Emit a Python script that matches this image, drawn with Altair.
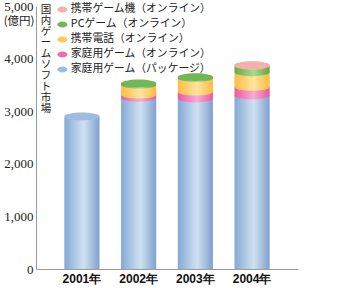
import altair as alt
import pandas as pd

years = ["2001年", "2002年", "2003年", "2004年"]
# stacking order, bottom to top
series = [
    "家庭用ゲーム（パッケージ）",
    "家庭用ゲーム（オンライン）",
    "携帯電話（オンライン）",
    "PCゲーム（オンライン）",
    "携帯ゲーム機（オンライン）",
]
pkg = [2900, 3255, 3240, 3300]
home_online = [0, 60, 130, 160]
mobile = [0, 190, 260, 280]
pc = [0, 25, 20, 125]
handheld = [0, 0, 0, 10]
values = [pkg, home_online, mobile, pc, handheld]

y_ticks = [0, 1000, 2000, 3000, 4000, 5000]
title_chars = list("国内ゲームソフト市場")

side_grad = [
    ("#84a9d3", "#cfe1f2", "#80a1cc"),
    ("#ec58a4", "#fbaad4", "#ea58a0"),
    ("#fcbd44", "#ffe59e", "#faba42"),
    ("#64ab46", "#a9d98b", "#60a742"),
    ("#f19999", "#fcc9c5", "#ef9696"),
]
legend_colors = ["#f7afab", "#72b755", "#ffcb55", "#f06aae", "#9dbcdf"]
legend_order = series[::-1]

rows = []
for yi, yr in enumerate(years):
    lo = 0
    for si, s in enumerate(series):
        v = values[si][yi]
        rows.append({"year": yr, "series": s, "idx": si, "value": v, "lo": lo, "hi": lo + v})
        lo += v
df = pd.DataFrame(rows)

tops = []
for yr in years:
    sub = df[(df.year == yr) & (df.value > 0)]
    last = sub.iloc[-1]
    tops.append({"year": yr, "series": last.series, "total": last.hi})
tops_df = pd.DataFrame(tops)

k = 0.5523
r = 0.22
ellipse = (f"M-1,0C-1,{-r*k:.4f},{-k},{-r},0,{-r}C{k},{-r},1,{-r*k:.4f},1,0"
           f"C1,{r*k:.4f},{k},{r},0,{r}C{-k},{r},-1,{r*k:.4f},-1,0Z")
r2 = 0.6
leg_ellipse = (f"M-1,0C-1,{-r2*k:.4f},{-k},{-r2},0,{-r2}C{k},{-r2},1,{-r2*k:.4f},1,0"
               f"C1,{r2*k:.4f},{k},{r2},0,{r2}C{-k},{r2},-1,{r2*k:.4f},-1,0Z")

W, H = 262, 263
p_in, p_out = 0.38, 0.5
step = W / (len(years) - p_in + 2 * p_out)
bw = step * (1 - p_in)

xscale = alt.Scale(domain=years, paddingInner=p_in, paddingOuter=p_out)
yscale = alt.Scale(domain=[0, 5000], nice=False)

x_enc = alt.X("year:N", scale=xscale, sort=years,
              axis=alt.Axis(title=None, labelAngle=0, ticks=False, labelPadding=4,
                            labelFont="Liberation Sans", labelFontSize=12,
                            labelFontWeight="bold", labelColor="#111",
                            domainColor="#9a9a9a"))
y_axis = alt.Axis(values=y_ticks, format=",d", ticks=False, grid=False, labelPadding=3,
                  labelFont="Liberation Serif", labelFontSize=13, labelColor="#222",
                  domainColor="#9a9a9a", title="(億円)", titleAngle=0,
                  titleAlign="right", titleBaseline="middle", titleX=-2, titleY=15,
                  titleFont="Noto Sans CJK JP", titleFontSize=11.5,
                  titleFontWeight="normal", titleColor="#222")

def grad(c):
    return alt.Gradient(gradient="linear", x1=0, x2=1, y1=0, y2=0,
                        stops=[alt.GradientStop(color=c[0], offset=0),
                               alt.GradientStop(color=c[1], offset=0.55),
                               alt.GradientStop(color=c[2], offset=1)])

base = alt.Chart(df)
layers = []
for si, s in enumerate(series):
    g = grad(side_grad[si])
    seg = base.transform_filter((alt.datum.idx == si) & (alt.datum.value > 0))
    if si > 0:
        layers.append(seg.mark_point(shape=ellipse, size=bw * bw, filled=True, fill=g,
                                     opacity=1, strokeWidth=0)
                      .encode(x=x_enc, y=alt.Y("lo:Q", scale=yscale, axis=y_axis)))
    layers.append(seg.mark_bar(fill=g, strokeWidth=0)
                  .encode(x=x_enc, y=alt.Y("lo:Q", scale=yscale, axis=y_axis), y2="hi:Q"))

caps = alt.Chart(tops_df).mark_point(shape=ellipse, size=bw * bw, filled=True,
                                     opacity=1, strokeWidth=0).encode(
    x=x_enc,
    y=alt.Y("total:Q", scale=yscale, axis=y_axis),
    color=alt.Color("series:N",
                    scale=alt.Scale(domain=legend_order, range=legend_colors),
                    legend=alt.Legend(title=None, orient="none", legendX=21, legendY=-2,
                                      padding=0, symbolType=leg_ellipse, symbolSize=100,
                                      symbolStrokeWidth=0, symbolOpacity=1,
                                      labelFont="Noto Sans CJK JP", labelFontSize=10.8,
                                      labelColor="#222", labelOffset=3, rowPadding=3,
                                      labelLimit=300)),
)
layers.append(caps)

vtitle = alt.Chart(alt.Data(values=[{}])).mark_text(
    font="Noto Sans CJK JP", fontSize=10.5, lineHeight=11, align="center",
    baseline="top", color="#222", lineBreak="\n"
).encode(text=alt.value("\n".join(title_chars)), x=alt.value(10), y=alt.value(-1))
layers.append(vtitle)

chart = alt.layer(*layers).properties(
    width=W, height=H,
    padding={"left": 36, "top": 6, "right": 43, "bottom": 19},
    autosize=alt.AutoSizeParams(type="none"),
    background="white",
).configure_view(stroke=None)

chart.save("out.html", embed_options={"renderer": "svg", "actions": False})
